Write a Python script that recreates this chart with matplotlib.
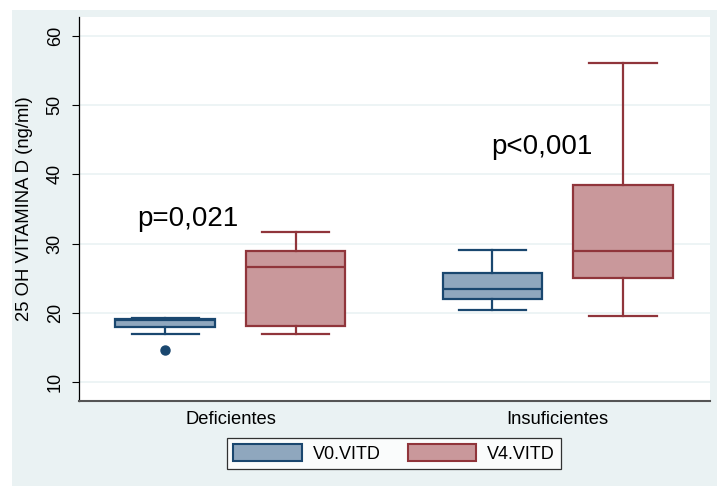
import matplotlib.pyplot as plt
from matplotlib.patches import Patch, Rectangle

plt.rcParams['font.family'] = ['Liberation Sans', 'DejaVu Sans']

# vitamin D levels by group, baseline (V0) and follow-up (V4)
groups = ["Deficientes", "Insuficientes"]
series = ["V0.VITD", "V4.VITD"]
q1 = [[18.0, 18.07], [22.0, 25.05]]
med = [[19.0, 26.67], [23.4, 29.0]]
q3 = [[19.1, 28.93], [25.8, 38.4]]
whislo = [[17.0, 17.0], [20.4, 19.6]]
whishi = [[19.3, 31.71], [29.1, 56.0]]
outliers = [[[14.6], []], [[], []]]
pvalues = ["p=0,021", "p<0,001"]
pvalue_pos = [(-0.13, 32.5), (0.952, 42.9)]

fills = ["#8fa7be", "#c9989b"]
edges = ["#1a476f", "#90353b"]
bg = "#eaf2f3"

fig = plt.figure(figsize=(7.17, 4.86), dpi=100, facecolor="white")
fig.patches.append(Rectangle((12 / 717, 0), 1, 1 - 10 / 486, transform=fig.transFigure,
                             facecolor=bg, edgecolor="none", zorder=-10))
ax = fig.add_axes([79 / 717, 1 - 400.5 / 486, (710 - 79) / 717, (400.5 - 17) / 486])
ax.set_facecolor("white")

offset = 0.2
for s in range(2):
    stats = []
    pos = []
    for g in range(2):
        stats.append(dict(q1=q1[g][s], med=med[g][s], q3=q3[g][s],
                          whislo=whislo[g][s], whishi=whishi[g][s],
                          fliers=outliers[g][s]))
        pos.append(g + (s * 2 - 1) * offset)
    ax.bxp(stats, positions=pos, widths=0.303, capwidths=0.205, patch_artist=True,
           showfliers=True,
           boxprops=dict(facecolor=fills[s], edgecolor=edges[s], linewidth=1.6),
           medianprops=dict(color=edges[s], linewidth=1.6),
           whiskerprops=dict(color=edges[s], linewidth=1.6),
           capprops=dict(color=edges[s], linewidth=1.6),
           flierprops=dict(marker="o", markerfacecolor=edges[s],
                           markeredgecolor=edges[s], markersize=6.5))

for txt, (x, y) in zip(pvalues, pvalue_pos):
    ax.text(x, y, txt, ha="center", va="baseline", fontsize=20)

ax.set_xlim(-0.463, 1.466)
ax.set_ylim(7.38, 62.67)
ax.set_yticks([10, 20, 30, 40, 50, 60])
ax.set_xticks([0, 1])
ax.set_xticklabels(groups, fontsize=13.2)
ax.tick_params(axis="x", length=0, pad=7.5)
ax.tick_params(axis="y", length=5, width=0.8, pad=6, labelsize=13, labelrotation=90)
for lab in ax.get_yticklabels():
    lab.set_va("center")
ax.yaxis.grid(True, color=bg, linewidth=1.2)
ax.set_axisbelow(True)
for side in ["top", "right"]:
    ax.spines[side].set_visible(False)
ax.spines["left"].set_linewidth(0.9)
ax.spines["bottom"].set_color("#555555")
ax.spines["bottom"].set_linewidth(1.5)

ax.set_ylabel("25 OH VITAMINA D (ng/ml)", fontsize=13.3)
ax.yaxis.set_label_coords(-0.073, 0.5)

handles = [Patch(facecolor=fills[i], edgecolor=edges[i], linewidth=1.5, label=series[i])
           for i in range(2)]
leg = fig.legend(handles=handles, ncol=2, loc="center", bbox_to_anchor=(394 / 717, 1 - 453.5 / 486),
                 fontsize=13, frameon=True, fancybox=False, edgecolor="black",
                 handlelength=3.8, handleheight=1.0, handletextpad=0.6, columnspacing=1.5,
                 borderpad=0.35)
leg.get_frame().set_linewidth(0.9)

fig.savefig("out.png", dpi=100, facecolor="white")
